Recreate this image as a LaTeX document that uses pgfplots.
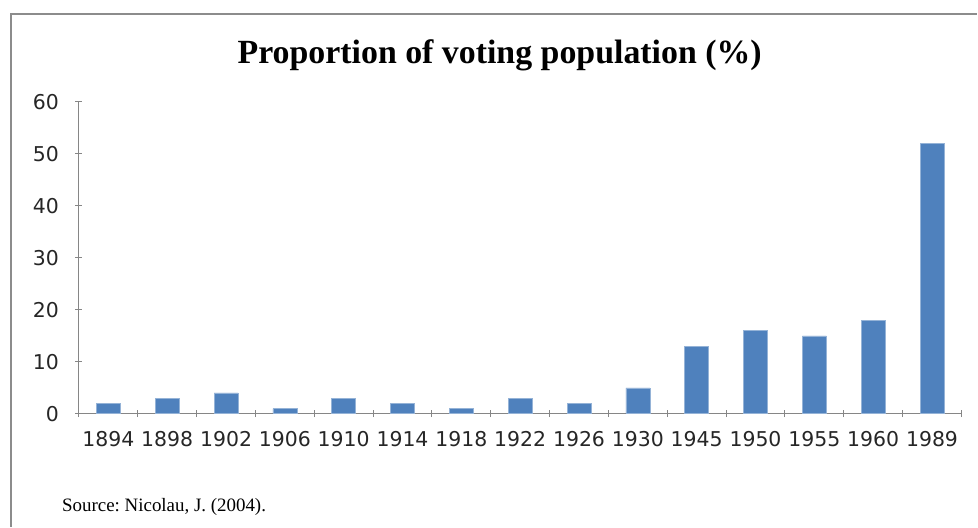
\documentclass[border=0pt]{standalone}
\usepackage{fontspec}
\setmainfont{DejaVu Sans}
\newfontfamily\titlefont{Liberation Serif}
\usepackage{pgfplots}
\pgfplotsset{compat=1.18}

\definecolor{barblue}{HTML}{4F81BD}
\definecolor{axisgray}{HTML}{868686}
\definecolor{framegray}{HTML}{8C8C8C}

\begin{document}
\begin{tikzpicture}[x=1bp,y=1bp]
  % canvas
  \path (0,0) rectangle (978,527);
  % chart frame
  \draw[framegray, line width=1.2bp] (11,0) -- (11,513) -- (978,513);

  \begin{axis}[
    at={(79bp,113bp)}, anchor=south west,
    scale only axis,
    width=883bp, height=312bp,
    ybar, bar width=24bp,
    xmin=-0.5, xmax=14.5,
    ymin=0, ymax=60,
    ytick={0,10,...,60},
    xtick={0,...,14},
    xticklabels={1894,1898,1902,1906,1910,1914,1918,1922,1926,1930,1945,1950,1955,1960,1989},
    minor xtick={-0.5,0.5,...,14.5},
    major x tick style={draw=none},
    minor tick length=7bp,
    major tick length=7bp,
    tick align=outside,
    axis lines=left,
    axis line style={-, axisgray, line width=1bp},
    tick style={axisgray, line width=1bp},
    /pgf/number format/assume math mode=true,
    ticklabel style={font=\fontsize{20.5}{24}\selectfont, text=black!85},
    xticklabel style={yshift=-11bp},
    yticklabel style={xshift=-13bp},
    clip=false,
  ]
    \addplot[fill=barblue, draw=barblue!60!white, line width=0.5bp] coordinates {
      (0,2) (1,3) (2,4) (3,1) (4,3) (5,2) (6,1) (7,3) (8,2) (9,5)
      (10,13) (11,16) (12,15) (13,18) (14,52)
    };
  \end{axis}

  \node[font=\titlefont\bfseries\fontsize{34}{38}\selectfont, anchor=base]
    at (500,463) {Proportion of voting population (\%)};
  \node[font=\titlefont\fontsize{19}{21}\selectfont, anchor=base west, inner sep=0]
    at (62,15) {Source:\ Nicolau, J. (2004).};
\end{tikzpicture}
\end{document}
